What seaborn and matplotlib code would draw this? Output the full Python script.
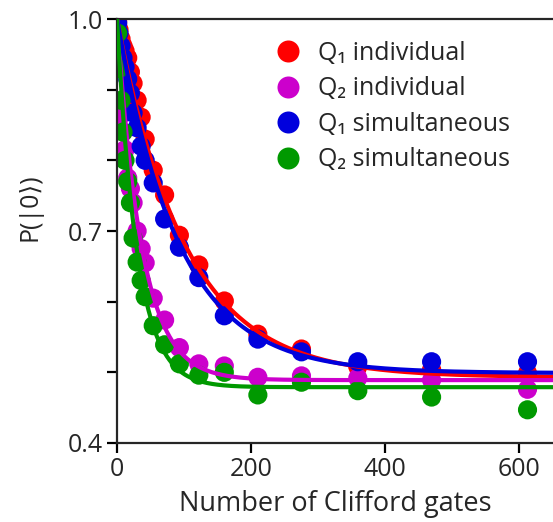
import numpy as np
import pandas as pd
import matplotlib
matplotlib.use("Agg")
import matplotlib.pyplot as plt
import seaborn as sns
from matplotlib.ticker import MultipleLocator

# --- datos ---------------------------------------------------------------
n_gates = [1, 3, 6, 9, 12, 16, 20, 24, 30, 36, 42, 54, 71, 93, 122, 160, 210, 275, 359, 469, 612]

q1_individual = [0.996, 0.985, 0.972, 0.962, 0.955, 0.945, 0.925, 0.909, 0.885, 0.861, 0.830,
                 0.786, 0.751, 0.694, 0.652, 0.601, 0.554, 0.533, 0.508, 0.504, 0.499]
q2_individual = [0.970, 0.860, 0.870, 0.840, 0.815, 0.775, 0.760, 0.740, 0.700, 0.675, 0.655,
                 0.605, 0.574, 0.535, 0.512, 0.509, 0.493, 0.495, 0.492, 0.489, 0.476]
q1_simultaneous = [0.994, 0.980, 0.962, 0.945, 0.932, 0.915, 0.895, 0.867, 0.846, 0.820, 0.800,
                   0.768, 0.717, 0.677, 0.634, 0.580, 0.547, 0.529, 0.515, 0.515, 0.515]
q2_simultaneous = [0.980, 0.930, 0.885, 0.840, 0.800, 0.770, 0.740, 0.690, 0.656, 0.630, 0.607,
                   0.566, 0.539, 0.512, 0.496, 0.500, 0.468, 0.486, 0.474, 0.465, 0.447]

series_names = ["Q\u2081 individual", "Q\u2082 individual", "Q\u2081 simultaneous", "Q\u2082 simultaneous"]
series_colors = ["#ff0000", "#cc00cc", "#0000dd", "#009900"]

# ajuste exponencial: A * exp(-n / tau) + B
fit_A = [0.507, 0.511, 0.501, 0.521]
fit_tau = [102, 37, 92, 30]
fit_B = [0.493, 0.489, 0.499, 0.479]

# --- tablas -------------------------------------------------------------
puntos = pd.concat([
    pd.DataFrame({"n": n_gates, "p": vals, "serie": name})
    for vals, name in zip([q1_individual, q2_individual, q1_simultaneous, q2_simultaneous], series_names)
], ignore_index=True)

n_fit = np.linspace(0, 650, 500)
curvas = pd.concat([
    pd.DataFrame({"n": n_fit, "p": a * np.exp(-n_fit / t) + b, "serie": name})
    for a, t, b, name in zip(fit_A, fit_tau, fit_B, series_names)
], ignore_index=True)

palette = dict(zip(series_names, series_colors))

# --- grafico ------------------------------------------------------------
sns.set_style("ticks")
plt.rcParams["font.family"] = ["Open Sans", "DejaVu Sans"]

fig = plt.figure(figsize=(5.53, 5.22), dpi=100)
ax = fig.add_axes([117 / 553, 79 / 522, 436 / 553, 424 / 522])

sns.scatterplot(data=puntos, x="n", y="p", hue="serie", hue_order=series_names,
                palette=palette, s=190, linewidth=0, ax=ax, zorder=2)
sns.lineplot(data=curvas, x="n", y="p", hue="serie", hue_order=series_names,
             palette=palette, linewidth=3, legend=False, ax=ax, zorder=3, sort=False)

ax.set_xlim(0, 650)
ax.set_ylim(0.4, 1.0)
ax.set_xticks([0, 200, 400, 600])
ax.set_yticks([0.4, 0.7, 1.0])
ax.yaxis.set_minor_locator(MultipleLocator(0.1))

for side in ["left", "bottom", "top"]:
    ax.spines[side].set_linewidth(1.6)
ax.spines["right"].set_visible(False)

ax.tick_params(which="both", direction="out", length=7, width=1.6, color="black")
ax.tick_params(axis="both", labelsize=18, pad=3)

ax.set_xlabel("Number of Clifford gates", fontsize=19.5, labelpad=6)
ax.set_ylabel("P(|0\u27e9)", fontsize=18)
ax.yaxis.set_label_coords(-0.17, 0.557)

handles, labels = ax.get_legend_handles_labels()
ax.legend(handles, labels, frameon=False, loc="upper left", bbox_to_anchor=(0.312, 0.972),
          fontsize=18, handletextpad=0.2, labelspacing=0.42, borderaxespad=0, markerscale=1.15)

fig.savefig("out.png", dpi=100)
